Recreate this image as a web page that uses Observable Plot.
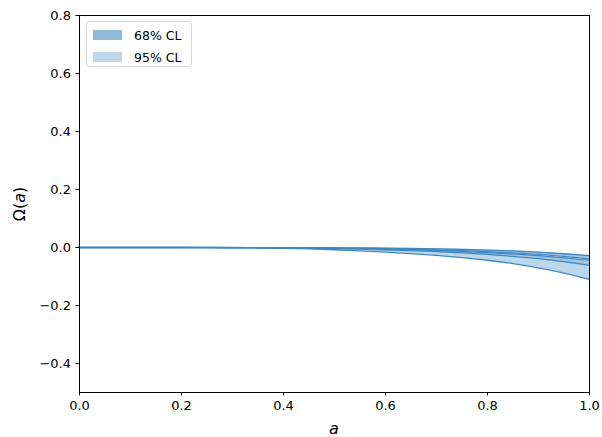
<!DOCTYPE html>
<html>
<head>
<meta charset="utf-8">
<script src="https://cdn.jsdelivr.net/npm/d3@7"></script>
<script src="https://cdn.jsdelivr.net/npm/@observablehq/plot@0.6"></script>
<style>
  body { margin: 0; background: #fff; font-family: "DejaVu Sans", sans-serif; }
  #wrap { position: relative; width: 602px; height: 437px; }
  #legend { position: absolute; left: 86px; top: 21px; width: 104px; height: 44px;
    border: 1px solid #d9d9d9; border-radius: 3px; background: rgba(255,255,255,0.8);
    font-size: 12.5px; font-family: "DejaVu Sans", sans-serif; }
  .row { position: absolute; left: 6px; height: 14px; display: flex; align-items: center; }
  .sw { width: 29px; height: 10px; margin-right: 12px; }
</style>
</head>
<body>
<div id="wrap"></div>
<script>
const aValues   = [0, 0.05, 0.1, 0.15, 0.2, 0.25, 0.3, 0.35, 0.4, 0.45, 0.5, 0.55, 0.6, 0.65, 0.7, 0.75, 0.8, 0.85, 0.9, 0.95, 1.0];
const upper95   = [0, 0, 0, 0, 0, 0, 0, -0.0002, -0.0004, -0.0007, -0.001, -0.0015, -0.0023, -0.0033, -0.0046, -0.0064, -0.0088, -0.0118, -0.0160, -0.0215, -0.0280];
const upper68   = [0, 0, 0, 0, 0, 0, 0, -0.0002, -0.0005, -0.0008, -0.0012, -0.0017, -0.0025, -0.0036, -0.0050, -0.0069, -0.0095, -0.0127, -0.0172, -0.0230, -0.0300];
const innerUp   = [0, 0, 0, 0, 0, 0, -0.0001, -0.0003, -0.0006, -0.0012, -0.0019, -0.0028, -0.0042, -0.0059, -0.0081, -0.0110, -0.0145, -0.0188, -0.0240, -0.0308, -0.0390];
const innerLow  = [0, 0, 0, 0, 0, 0, -0.0001, -0.0005, -0.0010, -0.0016, -0.0025, -0.0037, -0.0054, -0.0073, -0.0099, -0.0134, -0.0174, -0.0222, -0.0283, -0.0358, -0.0440];
const lower68   = [0, 0, 0, 0, 0, 0, -0.0002, -0.0006, -0.0013, -0.0023, -0.0037, -0.0055, -0.0078, -0.0106, -0.0141, -0.0186, -0.0240, -0.0305, -0.0385, -0.0490, -0.0620];
const lower95   = [0, 0, 0, 0, 0, -0.0003, -0.0008, -0.0017, -0.0030, -0.0050, -0.0078, -0.0113, -0.0158, -0.0210, -0.0275, -0.0350, -0.0440, -0.0555, -0.0700, -0.0880, -0.1100];
const xTicks = [0, 0.2, 0.4, 0.6, 0.8, 1.0];
const yTicks = [-0.4, -0.2, 0, 0.2, 0.4, 0.6, 0.8];
const legendLabels = ["68% CL", "95% CL"];

const fill68 = "#8fbbd9";
const fill95 = "#bcd6ea";
const lineCol = "#3d87c2";

const data = aValues.map((a, i) => ({a, u95: upper95[i], u68: upper68[i], iu: innerUp[i], il: innerLow[i], l68: lower68[i], l95: lower95[i]}));

const chart = Plot.plot({
  width: 602, height: 437,
  marginLeft: 79, marginRight: 13, marginTop: 15, marginBottom: 45,
  style: {fontFamily: "DejaVu Sans, sans-serif", fontSize: "13px", color: "black", background: "white"},
  x: {domain: [0, 1], ticks: xTicks, tickFormat: d3.format(".1f"), tickSize: 3.5, tickPadding: 5, label: null},
  y: {domain: [-0.5, 0.8], ticks: yTicks, tickFormat: d3.format(".1f"), tickSize: 3.5, tickPadding: 5, label: null},
  marks: [
    Plot.areaY(data, {x: "a", y1: "l95", y2: "u95", fill: fill95, curve: "monotone-x"}),
    Plot.areaY(data, {x: "a", y1: "l68", y2: "u68", fill: fill68, fillOpacity: 0.55, curve: "monotone-x"}),
    Plot.areaY(data, {x: "a", y1: "il", y2: "iu", fill: "white", curve: "monotone-x"}),
    Plot.lineY(data, {x: "a", y: "u95", stroke: lineCol, strokeWidth: 1.3, curve: "monotone-x"}),
    Plot.lineY(data, {x: "a", y: "iu", stroke: lineCol, strokeWidth: 1.2, curve: "monotone-x"}),
    Plot.lineY(data, {x: "a", y: "il", stroke: lineCol, strokeWidth: 1.2, curve: "monotone-x"}),
    Plot.lineY(data, {x: "a", y: "l68", stroke: lineCol, strokeWidth: 1.3, curve: "monotone-x"}),
    Plot.lineY(data, {x: "a", y: "l95", stroke: lineCol, strokeWidth: 1.3, curve: "monotone-x"}),
    Plot.frame({stroke: "black", strokeWidth: 1})
  ]
});

const wrap = document.getElementById("wrap");
wrap.appendChild(chart);

const svg = d3.select(chart);
svg.append("text").attr("x", 334).attr("y", 434).attr("text-anchor", "middle")
  .attr("font-size", 16).attr("font-style", "italic").attr("font-family", "DejaVu Sans, sans-serif").text("a");
svg.append("text").attr("transform", "translate(25,204) rotate(-90)").attr("text-anchor", "middle")
  .attr("font-size", 16).attr("font-family", "DejaVu Sans, sans-serif")
  .html('Ω(<tspan font-style="italic">a</tspan>)');

const leg = document.createElement("div");
leg.id = "legend";
[[fill68, 6], [fill95, 28]].forEach(([col, top], i) => {
  const r = document.createElement("div");
  r.className = "row"; r.style.top = top + "px";
  const sw = document.createElement("div"); sw.className = "sw"; sw.style.background = col;
  const t = document.createElement("span"); t.textContent = legendLabels[i];
  r.appendChild(sw); r.appendChild(t); leg.appendChild(r);
});
wrap.appendChild(leg);
</script>
</body>
</html>
